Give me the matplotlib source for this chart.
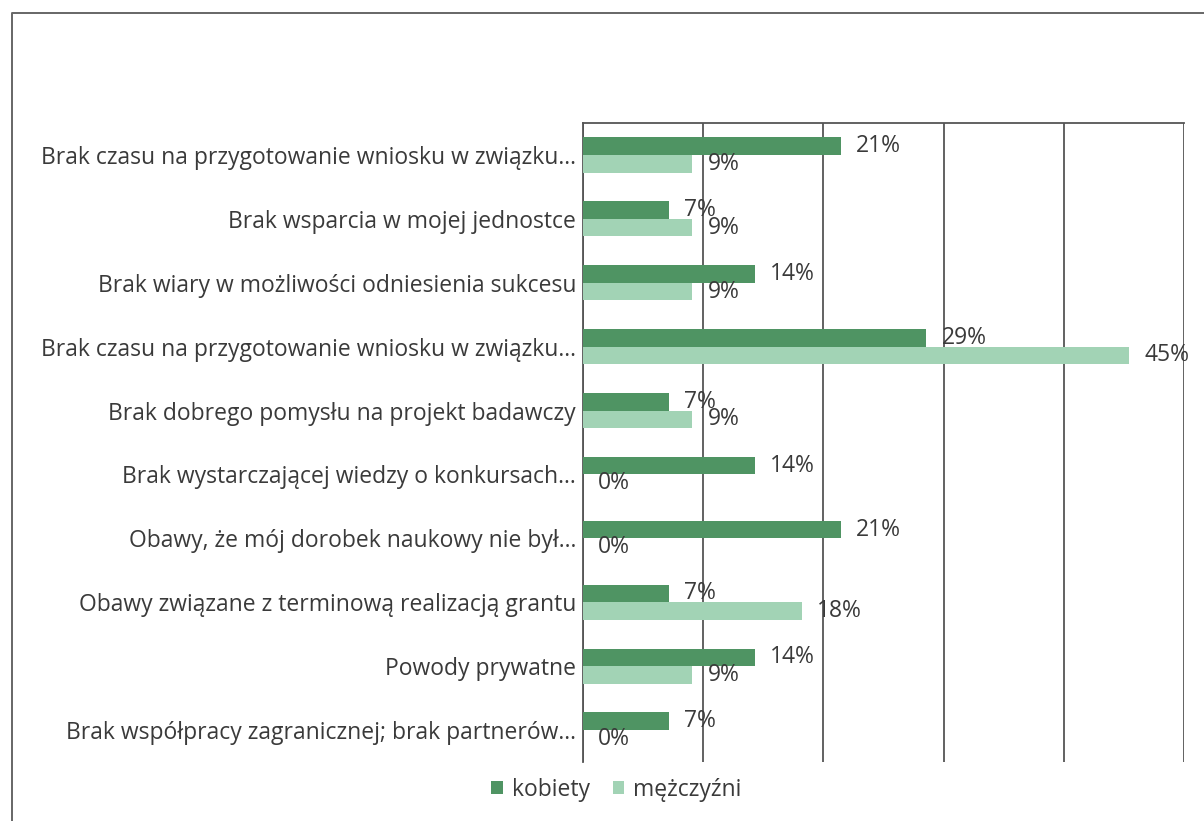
import matplotlib
matplotlib.use("Agg")
import matplotlib.pyplot as plt
from matplotlib.lines import Line2D
import numpy as np

plt.rcParams['font.family'] = ['Open Sans', 'DejaVu Sans']

categories = [
    "Brak czasu na przygotowanie wniosku w związku…",
    "Brak wsparcia w mojej jednostce",
    "Brak wiary w możliwości odniesienia sukcesu",
    "Brak czasu na przygotowanie wniosku w związku…",
    "Brak dobrego pomysłu na projekt badawczy",
    "Brak wystarczającej wiedzy o konkursach…",
    "Obawy, że mój dorobek naukowy nie był…",
    "Obawy związane z terminową realizacją grantu",
    "Powody prywatne",
    "Brak współpracy zagranicznej; brak partnerów…",
]
kobiety = [21.43, 7.14, 14.29, 28.57, 7.14, 14.29, 21.43, 7.14, 14.29, 7.14]
mezczyzni = [9.09, 9.09, 9.09, 45.45, 9.09, 0.0, 0.0, 18.18, 9.09, 0.0]
series_names = ["kobiety", "mężczyźni"]

col_k = "#4f9463"
col_m = "#a2d3b5"
text_col = "#3a3a3a"
grid_col = "#555555"
fs = 16.5

fig = plt.figure(figsize=(12.04, 8.21), dpi=100)
ax = fig.add_axes([583 / 1204, 1 - 762 / 821, (1184 - 583) / 1204, (762 - 123) / 821])

y = np.arange(len(categories))
h = 0.275
bk = ax.barh(y - h / 2, kobiety, height=h, color=col_k, label=series_names[0], zorder=3)
bm = ax.barh(y + h / 2, mezczyzni, height=h, color=col_m, label=series_names[1], zorder=3)

for bars, vals in ((bk, kobiety), (bm, mezczyzni)):
    for rect, v in zip(bars, vals):
        ax.annotate(f"{v:.0f}%", (rect.get_width(), rect.get_y() + rect.get_height() / 2),
                    xytext=(11, 0), textcoords="offset points", ha="left", va="center",
                    fontsize=fs, color=text_col, zorder=4)

ax.set_xlim(0, 50)
ax.set_ylim(len(categories) - 0.5, -0.5)
ax.set_xticks([0, 10, 20, 30, 40, 50])
ax.xaxis.grid(True, color=grid_col, linewidth=1.3, zorder=0)
ax.tick_params(axis="x", length=0, labelbottom=False)
ax.set_yticks(y)
ax.set_yticklabels(categories, fontsize=fs, color=text_col)
ax.tick_params(axis="y", length=0, pad=5)

for side in ("right", "bottom"):
    ax.spines[side].set_visible(False)
ax.spines["left"].set_color(grid_col)
ax.spines["left"].set_linewidth(1.3)
ax.spines["top"].set_color(grid_col)
ax.spines["top"].set_linewidth(1.3)

fig.legend(handles=[bk, bm], labels=series_names, loc="center",
           bbox_to_anchor=(0.512, 1 - 790 / 821), ncol=2, frameon=False,
           fontsize=fs, handlelength=0.5, handleheight=0.5, handletextpad=0.4,
           columnspacing=1.0, labelcolor=text_col)

# outer frame of the chart area
fx = 12 / 1204
fy = 1 - 13 / 821
fig.add_artist(Line2D([fx, fx, 1.0], [0.0, fy, fy], transform=fig.transFigure,
                      color="#666666", linewidth=1.4))

fig.savefig("out.png", dpi=100, facecolor="white")
